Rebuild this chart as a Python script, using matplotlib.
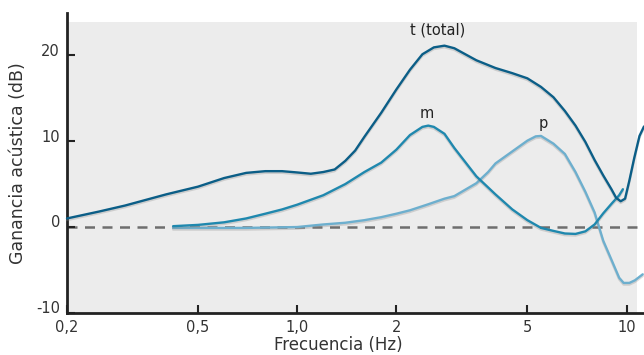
import matplotlib.pyplot as plt
import matplotlib.patheffects as pe
from matplotlib.transforms import ScaledTranslation

# frequency (Hz) and acoustic gain (dB)
freq_t = [0.2, 0.25, 0.3, 0.4, 0.5, 0.6, 0.7, 0.8, 0.9, 1.0, 1.1, 1.2, 1.3, 1.4, 1.5,
          1.6, 1.8, 2.0, 2.2, 2.4, 2.6, 2.8, 3.0, 3.5, 4.0, 4.5, 5.0, 5.5, 6.0, 6.5,
          7.0, 7.5, 8.0, 8.5, 9.0, 9.3, 9.6, 9.9, 10.2, 10.55, 10.95, 11.3]
gain_t = [1.0, 1.8, 2.5, 3.8, 4.7, 5.7, 6.3, 6.5, 6.5, 6.35, 6.2, 6.4, 6.7, 7.7, 8.9,
          10.5, 13.3, 16.0, 18.3, 20.1, 20.9, 21.1, 20.8, 19.4, 18.5, 17.9, 17.3, 16.3, 15.1, 13.5,
          11.8, 9.9, 7.8, 6.0, 4.4, 3.4, 3.0, 3.3, 5.4, 8.0, 10.6, 11.7]

freq_m = [0.42, 0.5, 0.6, 0.7, 0.8, 0.9, 1.0, 1.2, 1.4, 1.6, 1.8, 2.0, 2.2, 2.4, 2.5,
          2.6, 2.8, 3.0, 3.5, 4.0, 4.5, 5.0, 5.5, 6.0, 6.5, 7.0, 7.5, 8.0, 8.5, 9.0,
          9.5, 9.75]
gain_m = [0.1, 0.25, 0.55, 1.0, 1.55, 2.05, 2.6, 3.7, 5.0, 6.4, 7.5, 9.0, 10.7, 11.65, 11.8,
          11.65, 10.85, 9.2, 5.9, 3.8, 2.05, 0.8, -0.1, -0.45, -0.75, -0.8, -0.5, 0.3, 1.6, 2.7,
          3.7, 4.4]

freq_p = [0.42, 0.5, 0.7, 1.0, 1.2, 1.4, 1.6, 1.8, 2.0, 2.2, 2.5, 2.8, 3.0, 3.5, 3.8,
          4.0, 4.5, 5.0, 5.3, 5.5, 6.0, 6.5, 7.0, 7.5, 8.0, 8.5, 9.0, 9.5, 9.8, 10.2,
          10.6, 11.2]
gain_p = [-0.1, -0.1, -0.1, 0.0, 0.3, 0.5, 0.8, 1.15, 1.55, 1.95, 2.65, 3.3, 3.6, 5.1, 6.4,
          7.4, 8.8, 10.05, 10.55, 10.6, 9.7, 8.5, 6.4, 4.1, 1.7, -1.6, -3.8, -5.9, -6.5, -6.5,
          -6.2, -5.5]

xticks = [0.2, 0.5, 1.0, 2, 5, 10]
xtick_labels = ["0,2", "0,5", "1,0", "2", "5", "10"]
yticks = [-10, 0, 10, 20]

plt.rcParams['font.family'] = ['DejaVu Sans']
plt.rcParams['axes.unicode_minus'] = False

fig = plt.figure(figsize=(6.44, 3.55), dpi=100)
ax = fig.add_axes([67 / 644, 42 / 355, 577 / 644, 300 / 355])
ax.set_xscale('log')
ax.set_xlim(0.2, 11.3)
ax.set_ylim(-10, 24.9)

# grey panel (stops a little short of the axis ends)
ax.axvspan(0.2, 10.76, ymin=0, ymax=0.97, color='#ececec', lw=0, zorder=0)
ax.axhline(0, color='#6e6e6e', lw=1.8, ls=(0, (4, 3)), zorder=1)

shadow = [pe.SimpleLineShadow(offset=(0, -1.2), shadow_color='#888888', alpha=0.3), pe.Normal()]
style = dict(lw=1.7, path_effects=shadow, clip_on=False, solid_joinstyle='round',
             solid_capstyle='round')
ax.plot(freq_p, gain_p, color='#6dafce', zorder=2, **style)
ax.plot(freq_m, gain_m, color='#1f88ae', zorder=3, **style)
ax.plot(freq_t, gain_t, color='#0b5e87', zorder=4, **style)

ax.text(2.67, 22.9, "t (total)", ha='center', va='center', fontsize=10.5, color='#222222')
ax.text(2.47, 13.2, "m", ha='center', va='center', fontsize=10.5, color='#222222')
ax.text(5.6, 12.1, "p", ha='center', va='center', fontsize=10.5, color='#222222')

ax.set_xticks(xticks)
ax.set_xticklabels(xtick_labels)
ax.minorticks_off()
ax.set_yticks(yticks)
ax.tick_params(direction='in', length=6, width=1.5, colors='#222222', labelsize=10.5,
               labelcolor='#333333')
ax.tick_params(axis='x', pad=5)
ax.tick_params(axis='y', pad=5)
for lab in ax.get_yticklabels():
    lab.set_transform(lab.get_transform() + ScaledTranslation(0, 4 / 72, fig.dpi_scale_trans))

for s in ['top', 'right']:
    ax.spines[s].set_visible(False)
for s in ['left', 'bottom']:
    ax.spines[s].set_linewidth(2)
    ax.spines[s].set_color('#222222')

ax.set_xlabel("Frecuencia (Hz)", fontsize=12, color='#333333')
ax.xaxis.set_label_coords(0.47, -0.075)
ax.set_ylabel("Ganancia acústica (dB)", fontsize=12.5, color='#333333')
ax.yaxis.set_label_coords(-0.07, 0.5)

fig.savefig("out.png", dpi=100)
